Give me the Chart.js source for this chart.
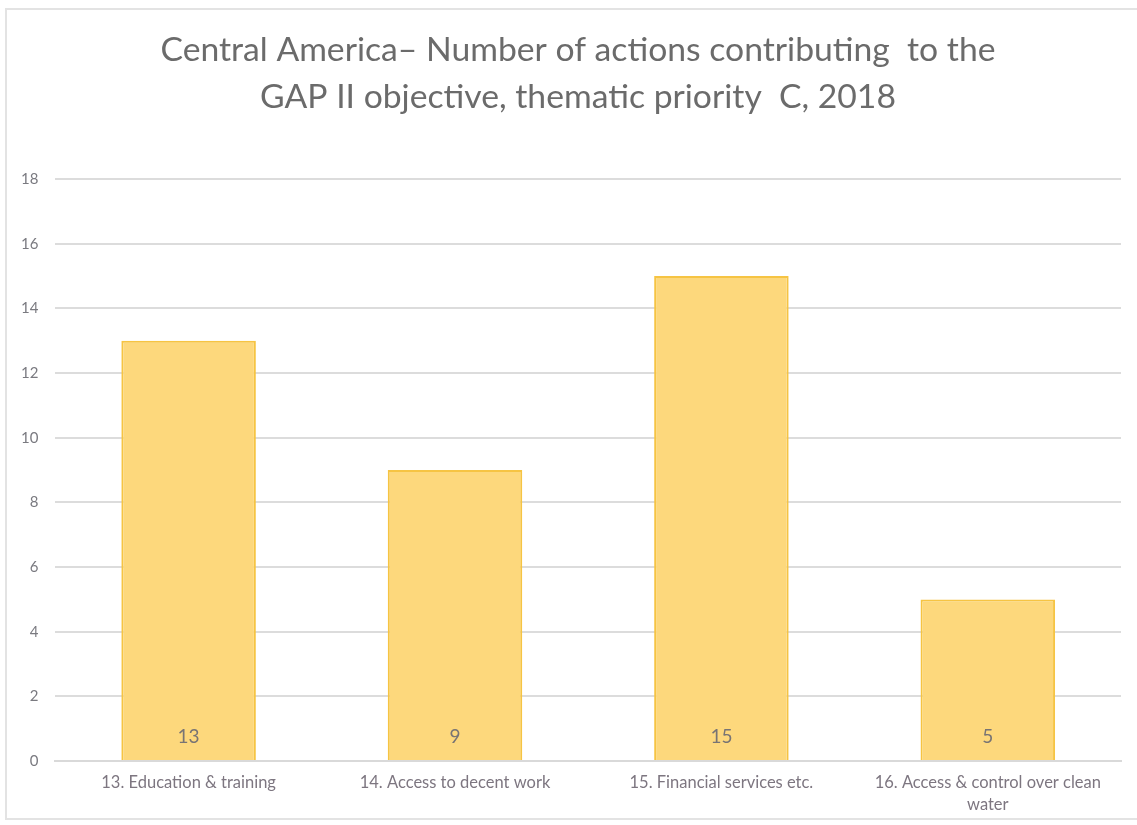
<!DOCTYPE html>
<html>
<head>
<meta charset="utf-8">
<script src="https://cdn.jsdelivr.net/npm/chart.js@4.4.1/dist/chart.umd.min.js"></script>
<style>
  html, body { margin: 0; padding: 0; background: #fff; }
  #wrap { position: absolute; left: 5px; top: 8px; width: 1140px; height: 812px; border: 2px solid #e3e3e3; box-sizing: border-box; }
  #frame { position: absolute; left: 0; top: 0; width: 1137px; height: 825px; }
</style>
</head>
<body>
<div id="wrap"></div>
<div id="frame"><canvas id="myChart" width="1137" height="825"></canvas></div>
<script>
'use strict';

// data
const categories = [
  '13. Education & training',
  '14. Access to decent work',
  '15. Financial services etc.',
  ['16. Access & control over clean', 'water']
];
const actions = [13, 9, 15, 5];
const yTicks = [0, 2, 4, 6, 8, 10, 12, 14, 16, 18];
const titleLines = [
  'Central America\u2013 Number of actions contributing  to the',
  'GAP II objective, thematic priority  C, 2018'
];

// title drawn a bit right of the canvas middle, like the original
const chartTitle = {
  id: 'chartTitle',
  afterDraw(chart) {
    const ctx = chart.ctx;
    ctx.save();
    ctx.font = '33.7px Lato, "Open Sans", sans-serif';
    ctx.fillStyle = '#6b6b6b';
    ctx.textAlign = 'center';
    ctx.textBaseline = 'middle';
    ctx.fillText(titleLines[0], 578, 50);
    ctx.fillText(titleLines[1], 578, 97);
    ctx.restore();
  }
};

// values printed inside the bottom of each bar
const barLabels = {
  id: 'barLabels',
  afterDatasetsDraw(chart) {
    const ctx = chart.ctx;
    const meta = chart.getDatasetMeta(0);
    const y0 = chart.scales.y.getPixelForValue(0);
    ctx.save();
    ctx.font = '19px Lato, "Open Sans", sans-serif';
    ctx.fillStyle = '#787474';
    ctx.textAlign = 'center';
    ctx.textBaseline = 'middle';
    meta.data.forEach(function (bar, i) {
      ctx.fillText(String(actions[i]), bar.x, y0 - 24);
    });
    ctx.restore();
  }
};

Chart.defaults.font.family = 'Lato, "Open Sans", sans-serif';

const ctx = document.getElementById('myChart');
const myChart = new Chart(ctx, {
  type: 'bar',
  data: {
    labels: categories,
    datasets: [{
      data: actions,
      backgroundColor: '#fdd87c',
      borderColor: '#f6c443',
      borderWidth: 2,
      categoryPercentage: 1.0,
      barPercentage: 0.505
    }]
  },
  options: {
    responsive: false,
    animation: false,
    layout: { padding: { left: 4, right: 16, top: 179, bottom: 6 } },
    plugins: {
      legend: { display: false },
      tooltip: { enabled: false },
      title: { display: false }
    },
    scales: {
      x: {
        grid: { display: false },
        border: { color: '#d9d9d9', width: 2 },
        ticks: {
          color: '#7d7680',
          font: { size: 16.5, lineHeight: 1.33 },
          maxRotation: 0,
          autoSkip: false,
          padding: 3
        }
      },
      y: {
        min: 0,
        max: 18,
        afterBuildTicks: function (axis) {
          axis.ticks = yTicks.map(function (v) { return { value: v }; });
        },
        grid: { color: '#dcdcdc', lineWidth: 2, drawTicks: false },
        border: { display: false },
        ticks: {
          color: '#7a7a80',
          font: { size: 15 },
          padding: 17
        }
      }
    }
  },
  plugins: [barLabels, chartTitle]
});
</script>
</body>
</html>
